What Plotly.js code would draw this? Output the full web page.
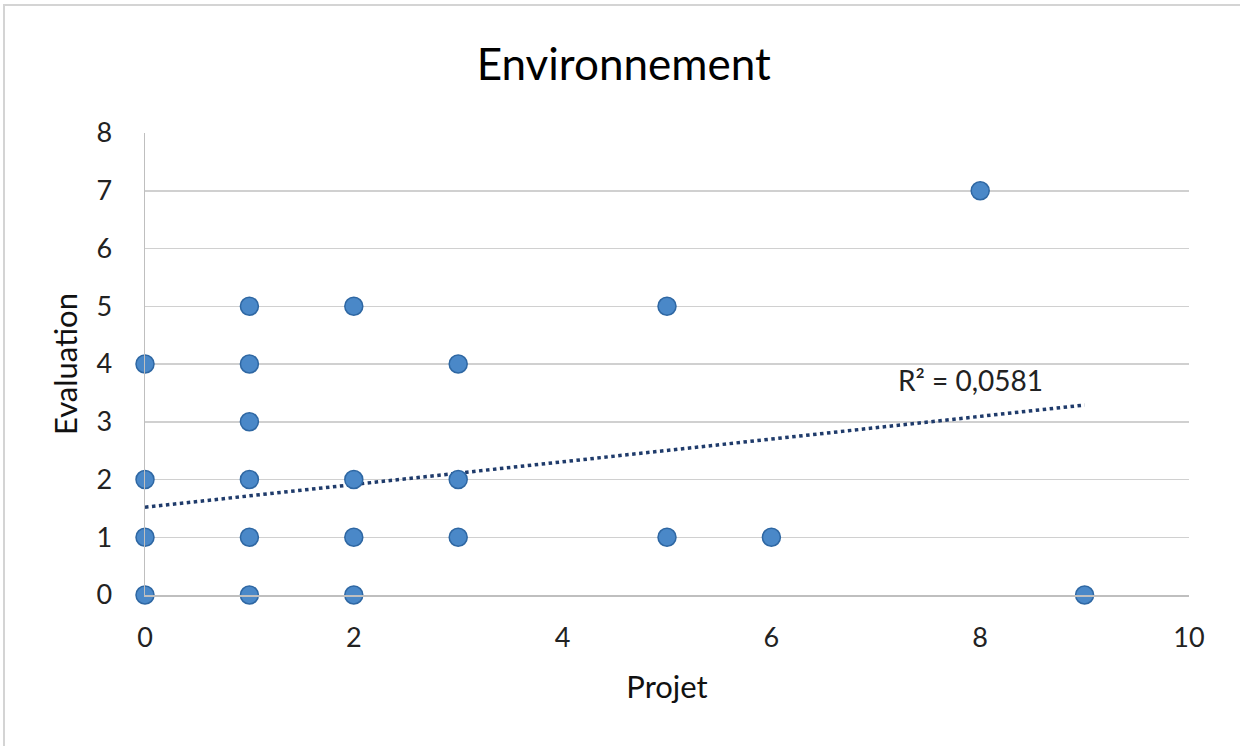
<!DOCTYPE html>
<html><head><meta charset="utf-8">
<script src="https://cdn.plot.ly/plotly-3.0.1.min.js"></script>
<style>
html,body{margin:0;padding:0;background:#fff;}
#frame{position:absolute;left:3px;top:4px;width:1260px;height:760px;border:2px solid #d4d4d4;box-sizing:border-box;}
#chart{position:absolute;left:0;top:0;width:1240px;height:746px;}
</style></head>
<body>
<div id="frame"></div>
<div id="chart"></div>
<script>
var projet     = [0,0,0,0, 1,1,1,1,1,1, 2,2,2,2, 3,3,3, 5,5, 6, 8, 9];
var evaluation = [0,1,2,4, 0,1,2,3,4,5, 0,1,2,5, 1,2,4, 1,5, 1, 7, 0];
var trendX = [0, 9];
var trendY = [1.52, 3.29];
var r2Label = "R² = 0,0581";
var xTicks = [0,2,4,6,8,10];
var yTicks = [0,1,2,3,4,5,6,7,8];

var font = "Lato, 'Open Sans', sans-serif";
var traces = [
  {x: trendX, y: trendY, mode: 'lines', type: 'scatter',
   line: {color: '#1f3b6b', width: 3.5, dash: 'dot'}, hoverinfo: 'skip', cliponaxis: false},
  {x: projet, y: evaluation, mode: 'markers', type: 'scatter', cliponaxis: false,
   marker: {size: 18, color: '#4a88c8', line: {color: '#2e67a3', width: 1.5}}}
];
var layout = {
  width: 1240, height: 746,
  margin: {l: 145, r: 51, t: 133, b: 151},
  paper_bgcolor: 'rgba(0,0,0,0)', plot_bgcolor: 'rgba(0,0,0,0)',
  showlegend: false,
  font: {family: font, color: '#1a1a1a'},
  title: {text: 'Environnement', font: {size: 44, family: font, color: '#000'},
          x: 0.503, xanchor: 'center', y: 0.914, yanchor: 'middle'},
  xaxis: {range: [0, 10], tickvals: xTicks, ticktext: xTicks.map(String),
          showgrid: false, zeroline: false, showline: true, linecolor: '#bfbfbf', linewidth: 1.5,
          ticks: '', tickfont: {size: 27, color: '#222'}, ticklabelstandoff: 18,
          title: {text: 'Projet', font: {size: 31, color: '#111'}, standoff: 24}},
  yaxis: {range: [0, 8], tickvals: yTicks, ticktext: yTicks.map(String),
          showgrid: true, gridcolor: '#d0d0d0', gridwidth: 1.5, zeroline: false,
          showline: true, linecolor: '#bfbfbf', linewidth: 1.5,
          ticks: '', tickfont: {size: 27, color: '#222'}, ticklabelstandoff: 26,
          title: {text: 'Evaluation', font: {size: 31, color: '#111'}, standoff: 9}},
  annotations: [{x: 7.91, y: 3.72, xref: 'x', yref: 'y', text: r2Label, showarrow: false,
                 font: {size: 28, color: '#222', family: font}}]
};
Plotly.newPlot('chart', traces, layout, {staticPlot: true});
</script>
</body></html>
